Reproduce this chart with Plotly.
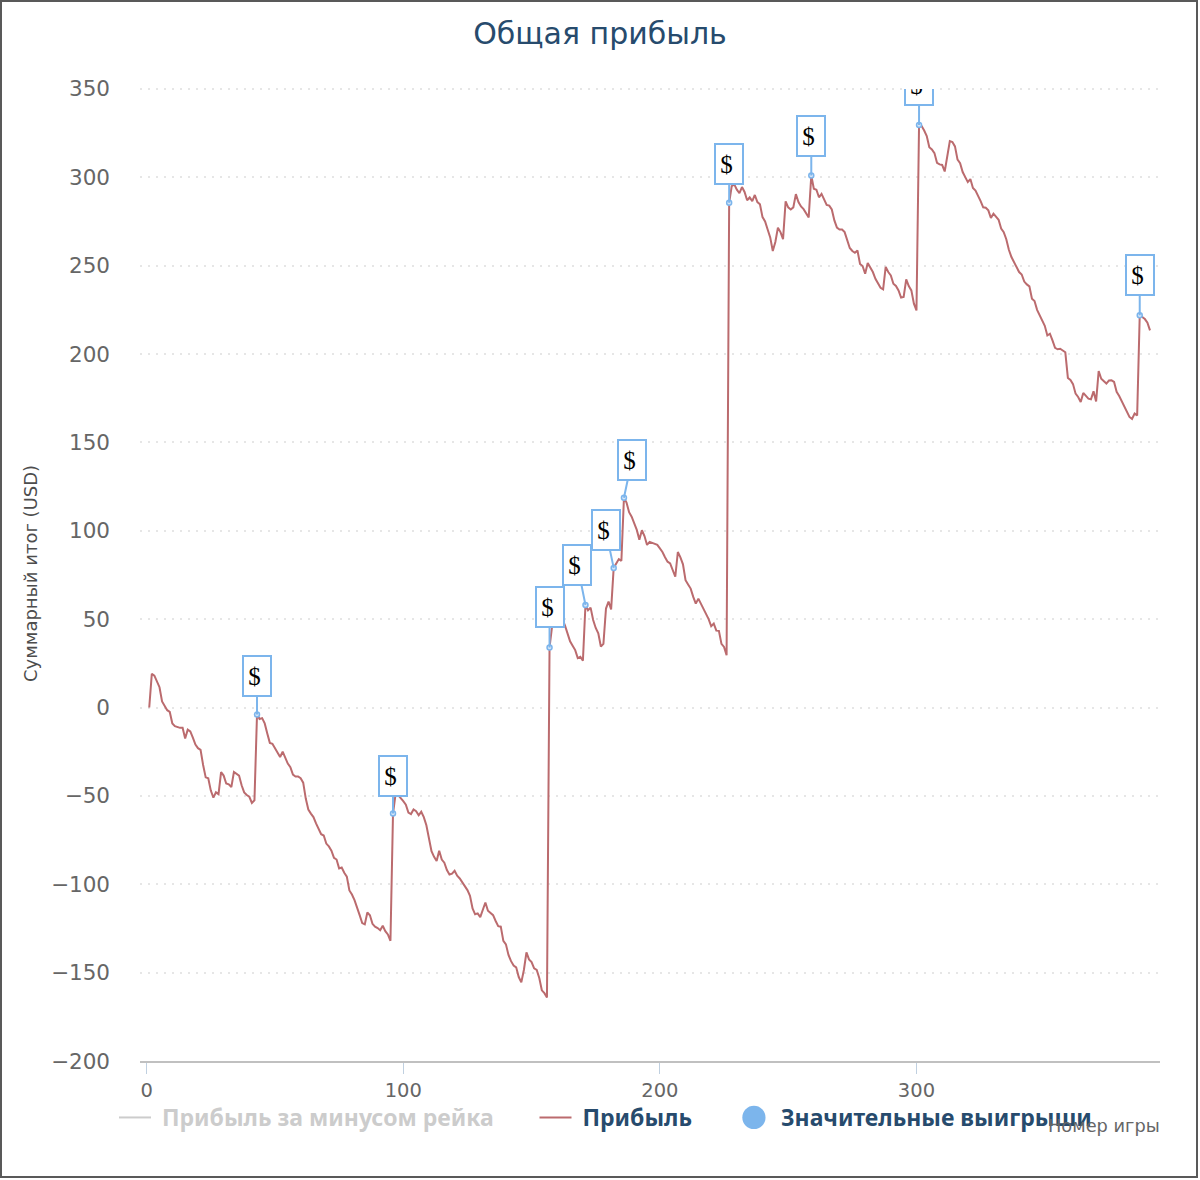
import plotly.graph_objects as go

first_game = 1
profit_values = [
 0, 19, 18, 15, 11.5, 3.4, 0.5, -1.5, -2.5, -9,
 -10.5, -11, -11.5, -11.5, -17.5, -12.5, -13.5, -17, -21, -23,
 -24, -32.5, -39.5, -40, -47, -51, -48, -49, -36.5, -38.5,
 -43, -43.5, -45, -36.5, -37.5, -38.5, -44, -48, -49.5, -50.5,
 -54, -52.5, -4, -6.5, -6, -9, -14.7, -20, -20.5, -23,
 -25, -28, -25, -28.5, -31.7, -33.7, -38, -39, -39, -40,
 -42.5, -51.5, -57.7, -60, -62, -65.6, -69, -71.7, -72.4, -77,
 -78.6, -81, -85, -86, -91, -90.5, -93.5, -95.7, -103.5, -105.8,
 -109, -112.7, -117.5, -122, -122.7, -116, -117.5, -122.4, -124, -124.8,
 -126, -123.5, -126.5, -128.4, -132, -60, -49, -49.5, -51, -53,
 -55, -59.5, -60.3, -57.7, -58.7, -61, -59, -62, -66.6, -75,
 -81.3, -84.5, -86.8, -81, -86, -87.8, -92, -94.5, -94, -92.4,
 -95.2, -96.7, -99, -101, -103.3, -106.5, -113.7, -117, -116.5, -118.6,
 -114.6, -110.3, -115, -116.3, -117.5, -120.8, -123.7, -124, -132, -134,
 -140, -143.5, -146, -147, -152.5, -155.5, -148.5, -138.5, -142.5, -144,
 -147.6, -148.5, -153, -160, -161.6, -164, 34, 46, 50, 53,
 52, 50, 46.5, 42, 37.5, 35, 32.5, 28, 28.7, 26.5,
 58, 55, 56.5, 49.5, 45, 42, 34.5, 36, 56, 60,
 55.5, 79, 81.5, 84, 83, 118.7, 116, 110.5, 108, 104.5,
 100.5, 95, 100.3, 97, 92, 93.7, 93.2, 92.7, 92, 90,
 88, 85, 82.5, 81.6, 77.7, 74, 88, 85, 81, 72,
 69.6, 67.3, 62.6, 58.8, 61.6, 58.8, 55.6, 52.6, 50, 46,
 47.5, 43.5, 43.4, 36, 34.3, 29.6, 285.6, 295, 296, 293,
 291, 294.5, 291.7, 287, 288.6, 286.5, 290, 286, 284.7, 277.5,
 275, 270.5, 266, 258.3, 263.4, 271.5, 269, 265, 286.4, 283,
 281.8, 283, 290.5, 286, 283.5, 282, 279.4, 277.3, 301, 293.5,
 293, 288.7, 290.6, 287.7, 284.4, 284, 281.8, 275.6, 271.5, 270.5,
 270.5, 269, 264.3, 260, 258.3, 257.3, 258.6, 251, 249.8, 245.4,
 251.5, 249.3, 246.4, 242.6, 240.4, 237.5, 236.6, 249.3, 246.4, 244.5,
 239.8, 238.5, 236, 232, 232.3, 242.3, 238.5, 236, 228.5, 224.7,
 329.6, 329, 326.5, 323.3, 317, 315.8, 313.7, 308.2, 307.3, 307,
 303.3, 313, 320.5, 320, 317.5, 310, 308, 303, 300, 297.3,
 299, 294, 292.5, 289.7, 286.5, 283, 282.8, 281.3, 277, 279.4,
 277.5, 276, 271, 269, 265, 259, 254.9, 252, 250, 246.4,
 245, 241, 239.4, 238.3, 231.3, 230, 225, 222.3, 219, 216,
 210.5, 211.5, 207.7, 203.5, 202.7, 203, 202, 201, 186.5, 185.3,
 183, 177.6, 175.7, 172.9, 178, 176.3, 174.8, 174.4, 178.9, 173.2,
 190.4, 186, 184.6, 183.3, 185, 185.1, 184.2, 178.6, 176.3, 173.5,
 170, 167.3, 164.4, 163.3, 166.3, 165.3, 221.9, 221, 219.8, 217.8,
 213.4,
]
games = list(range(first_game, first_game + len(profit_values)))

big_win_games = [43, 96, 157, 171, 182, 186, 227, 259, 301, 387]
big_win_values = [profit_values[g - first_game] for g in big_win_games]
flag_text = "$"
flag_dx = [0, 0, 0, -8, -8, 8, 0, 0, 0, 0]
flag_dy = [-39, -38, -40, -40, -38, -38, -39, -40, -40, -40]

x_ticks = [0, 100, 200, 300]
y_ticks = [-200, -150, -100, -50, 0, 50, 100, 150, 200, 250, 300, 350]

title_text = "Общая прибыль"
x_title = "Номер игры"
y_title = "Суммарный итог (USD)"
series_names = ["Прибыль за минусом рейка", "Прибыль", "Значительные выигрыши"]

W, H = 1198, 1178
L, R, T, B = 140, 38, 87, 117
NAVY = "#274b6d"
BLUE = "#7cb5ec"
RED = "#bb6b6e"
GREY = "#cccccc"
FONT = "DejaVu Sans"
GAP = "\u00a0" * 6
LEAD = "\u00a0"
PW, PH = W - L - R, H - T - B

fig = go.Figure()
fig.add_trace(go.Scatter(
    x=[None], y=[None], mode="lines",
    name=f'<span style="color:{GREY}"><b>{LEAD}{series_names[0]}{GAP}</b></span>',
    line=dict(color=GREY, width=2), hoverinfo="skip"))
fig.add_trace(go.Scatter(
    x=games, y=profit_values, mode="lines", name=f"<b>{LEAD}{series_names[1]}{GAP}</b>",
    line=dict(color=RED, width=2)))
fig.add_trace(go.Scatter(
    x=big_win_games, y=big_win_values, mode="markers", showlegend=False, name=series_names[2],
    marker=dict(color="#d6e6f8", size=5, line=dict(color=BLUE, width=1.5))))
fig.add_trace(go.Scatter(
    x=[None], y=[None], mode="markers", name=f"<b>{LEAD}{series_names[2]}</b>",
    marker=dict(color=BLUE, size=16, line=dict(width=0)), hoverinfo="skip"))

annotations = []
for g, v, dx, dy in zip(big_win_games, big_win_values, flag_dx, flag_dy):
    annotations.append(dict(
        x=g, y=v, xref="x", yref="y", text=flag_text + "\u2009", showarrow=True,
        ax=dx, ay=dy, arrowhead=0, arrowwidth=2, arrowcolor=BLUE, standoff=0,
        width=26, height=38, bgcolor="white", bordercolor=BLUE, borderwidth=2, borderpad=0,
        font=dict(family="Liberation Serif", size=25, color="black"),
        align="center", valign="middle"))
# the reference clips its top flag at the plot edge
annotations.append(dict(
    x=301, y=1, xref="x", yref="paper", xanchor="center", yanchor="bottom", yshift=-2, text=" ",
    showarrow=False, width=32, height=40, bgcolor="white", borderwidth=0, borderpad=0))
annotations.append(dict(
    x=1, y=0, xref="paper", yref="paper", xanchor="right", yanchor="top", yshift=-52, xshift=2,
    text=x_title, showarrow=False, font=dict(family=FONT, size=17.8, color="#666666")))
annotations.append(dict(
    x=30, y=0.5, xref="paper", yref="paper", xanchor="center", yanchor="middle", text=y_title,
    showarrow=False, textangle=-90, font=dict(family=FONT, size=18, color="#4d4d4d")))
annotations[-1]["x"] = (30 - L) / PW

fig.update_layout(
    width=W, height=H, autosize=False,
    margin=dict(l=L, r=R, t=T, b=B),
    paper_bgcolor="white", plot_bgcolor="white",
    font=dict(family=FONT, color="#666666"),
    title=dict(text=title_text, x=600 / W, xref="container", xanchor="center", y=1 - 33 / H, yanchor="middle",
               font=dict(family=FONT, size=30, color=NAVY)),
    xaxis=dict(range=[-2.6, 394.9], tickmode="array", tickvals=x_ticks, ticks="outside", ticklen=11,
               tickwidth=1, tickcolor="#C0D0E0", showgrid=False, zeroline=False, showline=True,
               linecolor="#C0C0C0", linewidth=2, tickfont=dict(family=FONT, size=19.5, color="#666666")),
    yaxis=dict(range=[-200, 351.1], tickmode="array", tickvals=y_ticks, showgrid=True, gridcolor="#e6e6e6",
               gridwidth=2, griddash="2px,6px", zeroline=False, showline=False, ticks="",
               ticklabelstandoff=29,
               tickfont=dict(family=FONT, size=21.5, color="#666666")),
    legend=dict(orientation="h", x=(119 - 5 - L) / PW, xref="paper", xanchor="left",
                y=-35 / PH, yref="paper", yanchor="top",
                entrywidth=0, itemwidth=32, font=dict(family="Noto Sans", size=23, color=NAVY),
                bgcolor="rgba(0,0,0,0)", itemclick=False, itemdoubleclick=False),
    annotations=annotations,
    shapes=[dict(type="rect", xref="paper", yref="paper", layer="above",
                 x0=-(L - 1) / PW, x1=1 + (R - 1) / PW,
                 y0=-(B - 1) / PH, y1=1 + (T - 1) / PH,
                 line=dict(color="#595959", width=2), fillcolor="rgba(0,0,0,0)")],
    showlegend=True, hovermode="closest",
)

post = """
document.body.style.margin='0';
var pts = document.querySelectorAll('.legendpoints path.scatterpts');
if (pts.length) {
  var p = pts[pts.length - 1];
  p.setAttribute('transform', (p.getAttribute('transform') || '') + ' scale(1.45)');
}
"""
fig.write_html("out.html", post_script=post, config={"displayModeBar": False})
